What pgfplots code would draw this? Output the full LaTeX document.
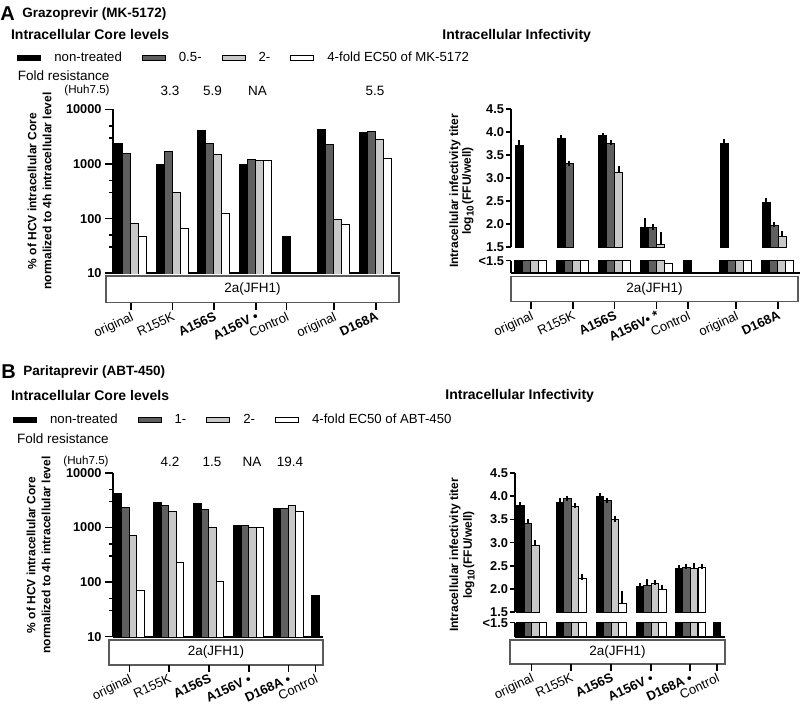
\documentclass[border=0pt]{standalone}
\usepackage{fontspec}
\setmainfont{Liberation Sans}
\usepackage{pgfplots}
\pgfplotsset{compat=1.18}

\definecolor{dk}{RGB}{95,95,95}
\definecolor{lt}{RGB}{200,200,200}
\definecolor{boxc}{RGB}{90,90,90}
\newcommand{\fs}[1]{\fontsize{#1pt}{#1pt}\selectfont}

\pgfplotsset{
  sK/.style={fill=black, draw=black, bar shift=0pt, line width=0.5pt},
  sD/.style={fill=dk, draw=black, bar shift=0pt, line width=0.5pt},
  sL/.style={fill=lt, draw=black, bar shift=0pt, line width=0.5pt},
  sW/.style={fill=white, draw=black, bar shift=0pt, line width=0.5pt},
}

\begin{document}
\begin{tikzpicture}[x=0.5pt, y=-0.5pt, tn/.style={inner sep=0pt}]
\useasboundingbox (0,0) rectangle (800,704);

%================ PANEL A =================
\node[tn, anchor=west, font=\bfseries\fs{10}] at (0,14) {A};
\node[tn, anchor=west, font=\bfseries\fs{6.75}] at (22,14) {Grazoprevir (MK-5172)};
\node[tn, anchor=west, font=\bfseries\fs{7}] at (10.7,35) {Intracellular Core levels};
\node[tn, anchor=west, font=\bfseries\fs{7}] at (442,36) {Intracellular Infectivity};
\node[tn, anchor=west, font=\fs{6.75}] at (17.5,76) {Fold resistance};
\node[tn, anchor=east, font=\fs{5.8}] at (110,91) {(Huh7.5)};
\node[tn, font=\fs{6.75}] at (170,91) {3.3};
\node[tn, font=\fs{6.75}] at (212.5,91) {5.9};
\node[tn, font=\fs{6.75}] at (257.5,91) {NA};
\node[tn, font=\fs{6.75}] at (375,91) {5.5};
\node[tn, rotate=90, font=\bfseries\fs{6}] at (32,191) {\% of HCV intracellular Core};
\node[tn, rotate=90, font=\bfseries\fs{6}] at (47,191) {normalized to 4h intracellular level};
\node[tn, rotate=90, font=\bfseries\fs{6}] at (455,191) {Intracellular infectivity titer};
\node[tn, rotate=90, font=\bfseries\fs{6}] at (468,191) {log\textsubscript{10}(FFU/well)};

\begin{axis}[scale only axis, anchor=south west, at={(56.5pt,-136.65pt)},
  width=143.5pt, height=81.9pt, xmin=113, xmax=400,
  ymode=log, ymin=10, ymax=10000,
  ybar, bar width=8,
  axis x line*=bottom, axis y line*=left,
  axis line style={line width=1pt, -},
  xtick=\empty,
  ytick={10,100,1000,10000}, yticklabels={10,100,1000,10000},
  minor ytick={30,50,300,500,3000,5000},
  tick align=outside, major tick length=4pt, minor tick length=2pt,
  tick style={black, line width=0.8pt},
  yticklabel style={font=\bfseries\fs{6.4}, inner sep=0pt, xshift=-1.5pt},
  legend columns=4, legend cell align=left,
  legend image code/.code={\draw[#1, line width=0.5pt] (0pt,-1.4pt) rectangle (11.5pt,1.4pt);},
  legend style={draw=none, fill=none, inner sep=0pt, at={(-0.3345,1.3144)}, anchor=west, font=\fs{6.6},
      nodes={inner sep=0pt}, column sep=0pt,
      /tikz/every odd column/.append style={column sep=6.5pt},
      /tikz/every even column/.append style={column sep=10pt}}]
\addplot[sK] table{
x y
119 2400
160.5 980
202 4080
244 970
286.5 48
322 4380
364 3760
};
\addlegendentry{non-treated}
\addplot[sD] table{
x y
127 1540
168.5 1690
210 2410
252 1230
330 2310
372 4030
};
\addlegendentry{0.5-}
\addplot[sL] table{
x y
135 81
176.5 300
218 1475
260 1160
338 98
380 2880
};
\addlegendentry{2-}
\addplot[sW] table{
x y
143 47
184.5 65
226 125
268 1150
346 79
388 1285
};
\addlegendentry{4-fold EC50 of MK-5172}
\end{axis}

\begin{axis}[scale only axis, anchor=south west, at={(255.5pt,-123.65pt)},
  width=144.5pt, height=69pt, xmin=511, xmax=800, ymin=1.5, ymax=4.5,
  ybar, bar width=8,
  axis x line=none, axis y line*=left,
  axis line style={line width=1pt, -},
  xtick=\empty,
  ytick={1.5,2,2.5,3,3.5,4,4.5}, yticklabels={1.5,2.0,2.5,3.0,3.5,4.0,4.5},
  tick align=outside, major tick length=2.5pt,
  tick style={black, line width=0.8pt},
  yticklabel style={font=\bfseries\fs{6.4}, inner sep=0pt, xshift=-0.8pt},
  error bars/y dir=plus, error bars/y explicit,
  error bars/error bar style={line width=1pt, black},
  error bars/error mark options={line width=1pt, black, mark size=1.3pt}]
\addplot[sK] table[x=x,y=y,y error=e]{
x y e
519 3.72 0.06
561 3.87 0.015
602.5 3.92 0.015
644.5 1.93 0.15
724 3.76 0.03
766 2.48 0.035
};
\addplot[sD] table[x=x,y=y,y error=e]{
x y e
569 3.33 0.0
610.5 3.76 0.01
652.5 1.93 0.01
774 1.98 0.02
};
\addplot[sL] table[x=x,y=y,y error=e]{
x y e
618.5 3.13 0.07
660.5 1.57 0.20
782 1.73 0.07
};
\end{axis}

\begin{axis}[scale only axis, anchor=south west, at={(255.5pt,-136.35pt)},
  width=144.5pt, height=6pt, xmin=511, xmax=800, ymin=0, ymax=1, clip=false,
  ybar, bar width=8,
  axis x line*=bottom, axis y line*=left,
  axis line style={line width=1pt, -},
  xtick=\empty, ytick={1}, yticklabels={<1.5},
  tick align=outside, major tick length=2.5pt,
  tick style={black, line width=0.8pt},
  yticklabel style={font=\bfseries\fs{6.4}, inner sep=0pt, xshift=-0.8pt}]
\addplot[sK] coordinates {(519,1)(561,1)(602.5,1)(644.5,1)(688,1)(724,1)(766,1)};
\addplot[sD] coordinates {(527,1)(569,1)(610.5,1)(652.5,1)(732,1)(774,1)};
\addplot[sL] coordinates {(535,1)(577,1)(618.5,1)(660.5,1)(740,1)(782,1)};
\addplot[sW] coordinates {(543,1)(585,1)(626.5,1)(668.5,0.75)(748,1)(790,1)};
\end{axis}

\draw[boxc, line width=0.6pt] (106,276) rectangle (399,302.7);
\node[tn, font=\fs{6.75}] at (252.5,289.3) {2a(JFH1)};
\draw[boxc, line width=0.6pt] (511,276.7) rectangle (798,301.7);
\node[tn, font=\fs{6.75}] at (654.5,289.2) {2a(JFH1)};

\begin{axis}[scale only axis, anchor=south west, at={(56.5pt,-151.35pt)},
  width=143.5pt, height=1pt, xmin=113, xmax=400, ymin=0, ymax=1,
  axis x line=bottom, axis y line=none, x axis line style={draw=none},
  tick align=outside, major tick length=3.5pt, tick style={black, line width=0.8pt},
  xticklabel style={rotate=25, anchor=north east, font=\fs{6.5}, inner sep=0.5pt},
  xtick={131,172.5,214,256,286.5,334,376},
  xticklabels={original,R155K,\textbf{A156S},\textbf{A156V •},Control,original,\textbf{D168A}}]
\end{axis}
\begin{axis}[scale only axis, anchor=south west, at={(255.5pt,-150.85pt)},
  width=144.5pt, height=1pt, xmin=511, xmax=800, ymin=0, ymax=1,
  axis x line=bottom, axis y line=none, x axis line style={draw=none},
  tick align=outside, major tick length=3.5pt, tick style={black, line width=0.8pt},
  xticklabel style={rotate=25, anchor=north east, font=\fs{6.5}, inner sep=0.5pt},
  xtick={531,573,614.5,656.5,688,736,778},
  xticklabels={original,R155K,\textbf{A156S},\textbf{A156V• *},Control,original,\textbf{D168A}}]
\end{axis}

%================ PANEL B =================
\node[tn, anchor=west, font=\bfseries\fs{10}] at (1,372) {B};
\node[tn, anchor=west, font=\bfseries\fs{6.75}] at (23,372) {Paritaprevir (ABT-450)};
\node[tn, anchor=west, font=\bfseries\fs{7}] at (10.7,396) {Intracellular Core levels};
\node[tn, anchor=west, font=\bfseries\fs{7}] at (445,396) {Intracellular Infectivity};
\node[tn, anchor=west, font=\fs{6.75}] at (16.7,439) {Fold resistance};
\node[tn, anchor=east, font=\fs{5.8}] at (109,462) {(Huh7.5)};
\node[tn, font=\fs{6.75}] at (170,462) {4.2};
\node[tn, font=\fs{6.75}] at (212,462) {1.5};
\node[tn, font=\fs{6.75}] at (252,462) {NA};
\node[tn, font=\fs{6.75}] at (290,462) {19.4};
\node[tn, rotate=90, font=\bfseries\fs{6}] at (31,555) {\% of HCV intracellular Core};
\node[tn, rotate=90, font=\bfseries\fs{6}] at (46,555) {normalized to 4h intracellular level};
\node[tn, rotate=90, font=\bfseries\fs{6}] at (455,555) {Intracellular infectivity titer};
\node[tn, rotate=90, font=\bfseries\fs{6}] at (469,555) {log\textsubscript{10}(FFU/well)};

\begin{axis}[scale only axis, anchor=south west, at={(56.5pt,-318.35pt)},
  width=105pt, height=81.85pt, xmin=113, xmax=323,
  ymode=log, ymin=10, ymax=10000,
  ybar, bar width=7.5,
  axis x line*=bottom, axis y line*=left,
  axis line style={line width=1pt, -},
  xtick=\empty,
  ytick={10,100,1000,10000}, yticklabels={10,100,1000,10000},
  minor ytick={30,50,300,500,3000,5000},
  tick align=outside, major tick length=4pt, minor tick length=2pt,
  tick style={black, line width=0.8pt},
  yticklabel style={font=\bfseries\fs{6.4}, inner sep=0pt, xshift=-1.5pt},
  legend columns=4, legend cell align=left,
  legend image code/.code={\draw[#1, line width=0.5pt] (0pt,-1.4pt) rectangle (11.5pt,1.4pt);},
  legend style={draw=none, fill=none, inner sep=0pt, at={(-0.4776,1.3237)}, anchor=west, font=\fs{6.6},
      nodes={inner sep=0pt}, column sep=0pt,
      /tikz/every odd column/.append style={column sep=6.5pt},
      /tikz/every even column/.append style={column sep=10pt}}]
\addplot[sK] table{
x y
118.25 4220
157.75 2850
197.75 2770
237.75 1086
277.25 2255
315.5 56
};
\addlegendentry{non-treated}
\addplot[sD] table{
x y
125.75 2350
165.25 2590
205.25 2100
245.25 1100
284.75 2255
};
\addlegendentry{1-}
\addplot[sL] table{
x y
133.25 706
172.75 1955
212.75 1000
252.75 1000
292.25 2590
};
\addlegendentry{2-}
\addplot[sW] table{
x y
140.75 71
180.25 231
220.25 104
260.25 1000
299.75 2010
};
\addlegendentry{4-fold EC50 of ABT-450}
\end{axis}

\begin{axis}[scale only axis, anchor=south west, at={(257.5pt,-306.15pt)},
  width=105pt, height=69.65pt, xmin=515, xmax=725, ymin=1.5, ymax=4.5,
  ybar, bar width=7.5,
  axis x line=none, axis y line*=left,
  axis line style={line width=1pt, -},
  xtick=\empty,
  ytick={1.5,2,2.5,3,3.5,4,4.5}, yticklabels={1.5,2.0,2.5,3.0,3.5,4.0,4.5},
  tick align=outside, major tick length=2.5pt,
  tick style={black, line width=0.8pt},
  yticklabel style={font=\bfseries\fs{6.4}, inner sep=0pt, xshift=-0.8pt},
  error bars/y dir=plus, error bars/y explicit,
  error bars/error bar style={line width=1pt, black},
  error bars/error mark options={line width=1pt, black, mark size=1.3pt}]
\addplot[sK] table[x=x,y=y,y error=e]{
x y e
520.25 3.80 0.015
559.75 3.87 0.03
599.75 3.99 0.015
639.75 2.05 0.015
678.75 2.44 0.015
};
\addplot[sD] table[x=x,y=y,y error=e]{
x y e
527.75 3.42 0.03
567.25 3.94 0.015
607.25 3.90 0.015
647.25 2.08 0.08
686.25 2.46 0.03
};
\addplot[sL] table[x=x,y=y,y error=e]{
x y e
535.25 2.94 0.06
574.75 3.78 0.02
614.75 3.49 0.02
654.75 2.11 0.04
693.75 2.45 0.05
};
\addplot[sW] table[x=x,y=y,y error=e]{
x y e
582.25 2.23 0.03
622.25 1.68 0.23
662.25 2.00 0.04
701.75 2.47 0.02
};
\end{axis}

\begin{axis}[scale only axis, anchor=south west, at={(257.5pt,-318.35pt)},
  width=105pt, height=7pt, xmin=515, xmax=725, ymin=0, ymax=1, clip=false,
  ybar, bar width=7.5,
  axis x line*=bottom, axis y line*=left,
  axis line style={line width=1pt, -},
  xtick=\empty, ytick={1}, yticklabels={<1.5},
  tick align=outside, major tick length=2.5pt,
  tick style={black, line width=0.8pt},
  yticklabel style={font=\bfseries\fs{6.4}, inner sep=0pt, xshift=-0.8pt}]
\addplot[sK] coordinates {(520.25,1)(559.75,1)(599.75,1)(639.75,1)(678.75,1)(717,1)};
\addplot[sD] coordinates {(527.75,1)(567.25,1)(607.25,1)(647.25,1)(686.25,1)};
\addplot[sL] coordinates {(535.25,1)(574.75,1)(614.75,1)(654.75,1)(693.75,1)};
\addplot[sW] coordinates {(542.75,1)(582.25,1)(622.25,1)(662.25,1)(701.75,1)};
\end{axis}

\draw[boxc, line width=0.6pt] (109,640) rectangle (323,665);
\node[tn, font=\fs{6.75}] at (216,652.5) {2a(JFH1)};
\draw[boxc, line width=0.6pt] (510,640) rectangle (725,664);
\node[tn, font=\fs{6.75}] at (617.5,652) {2a(JFH1)};

\begin{axis}[scale only axis, anchor=south west, at={(56.5pt,-332.5pt)},
  width=105pt, height=1pt, xmin=113, xmax=323, ymin=0, ymax=1,
  axis x line=bottom, axis y line=none, x axis line style={draw=none},
  tick align=outside, major tick length=3.5pt, tick style={black, line width=0.8pt},
  xticklabel style={rotate=25, anchor=north east, font=\fs{6.5}, inner sep=0.5pt},
  xtick={129.5,169,209,249,288.5,315.5},
  xticklabels={original,R155K,\textbf{A156S},\textbf{A156V •},\textbf{D168A •},Control}]
\end{axis}
\begin{axis}[scale only axis, anchor=south west, at={(257.5pt,-332pt)},
  width=105pt, height=1pt, xmin=515, xmax=725, ymin=0, ymax=1,
  axis x line=bottom, axis y line=none, x axis line style={draw=none},
  tick align=outside, major tick length=3.5pt, tick style={black, line width=0.8pt},
  xticklabel style={rotate=25, anchor=north east, font=\fs{6.5}, inner sep=0.5pt},
  xtick={531.5,571,611,651,690,717},
  xticklabels={original,R155K,\textbf{A156S},\textbf{A156V •},\textbf{D168A •},Control}]
\end{axis}

\end{tikzpicture}
\end{document}
